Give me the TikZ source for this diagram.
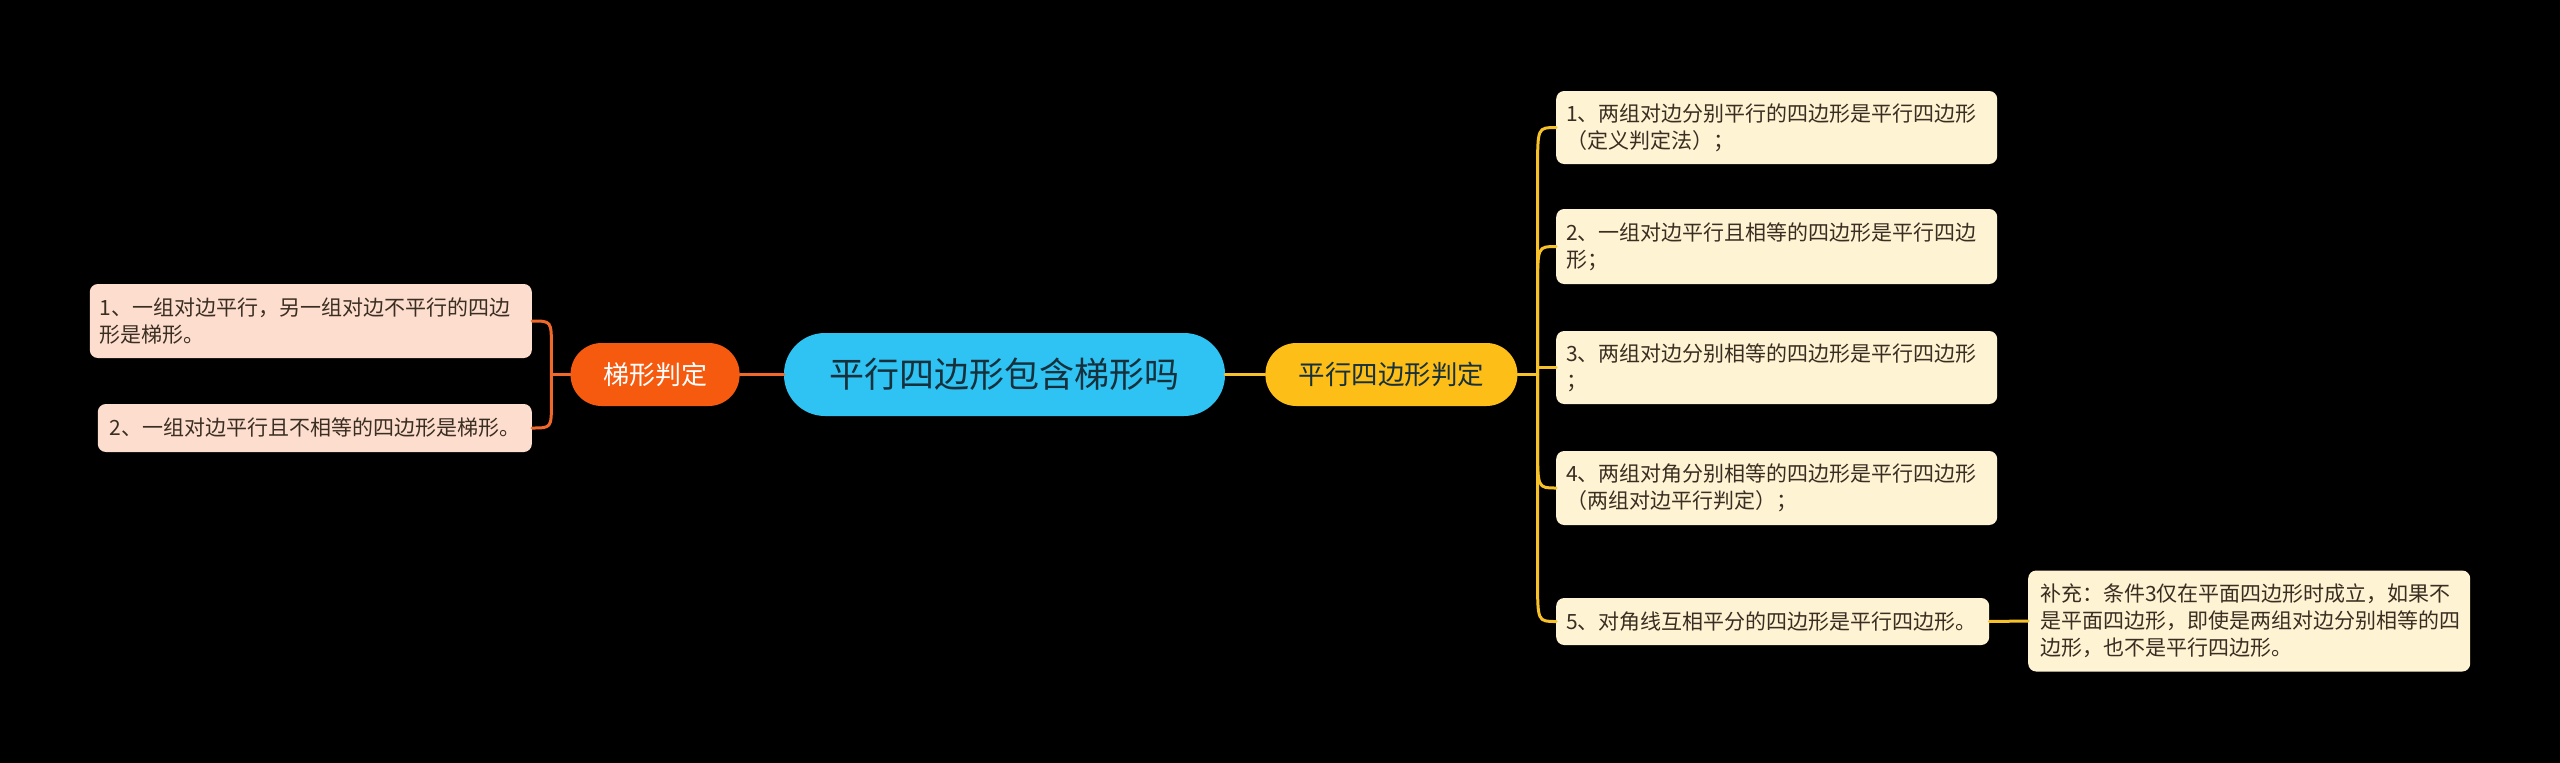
\documentclass[tikz,border=0pt]{standalone}
\usepackage{fontspec}
\setmainfont{Noto Sans CJK SC}
\usepackage{xcolor}
\usepackage{tikz}
\usetikzlibrary{positioning, calc}
\definecolor{rootblue}{HTML}{2FC3F3}
\definecolor{roottext}{HTML}{16303C}
\definecolor{trapfill}{HTML}{F55A0E}
\definecolor{parafill}{HTML}{FCBE17}
\definecolor{peach}{HTML}{FDDDCE}
\definecolor{cream}{HTML}{FEF3D2}
\definecolor{leaftext}{HTML}{3A2E22}
\definecolor{orangeln}{HTML}{F0682A}
\definecolor{yellowln}{HTML}{F7C12A}
\lineskiplimit=-50pt
\tikzset{
  root/.style={rectangle, rounded corners=41pt, fill=rootblue, text=roottext,
               minimum width=441pt, minimum height=83pt, inner sep=2pt,
               font=\fontsize{35}{42}\selectfont},
  sub/.style={rectangle, rounded corners=31pt, minimum height=63pt, inner sep=2pt},
  leaf/.style={rectangle, rounded corners=8pt, align=left, text=leaftext,
               inner xsep=10pt, inner ysep=3pt, font=\fontsize{21}{27}\selectfont},
  pleaf/.style={leaf, fill=cream, text width=421pt},
  tleaf/.style={leaf, fill=peach},
  oline/.style={draw=orangeln, line width=3pt, line cap=round},
  yline/.style={draw=yellowln, line width=3pt, line cap=round},
}
\begin{document}
\begin{tikzpicture}[x=1pt, y=-1pt]
  \fill[black] (0,0) rectangle (2560,763);
  \useasboundingbox (0,0) rectangle (2560,763);

  \node[root] (root) at (1004.5,374.5) {平行四边形包含梯形吗};
  \node[sub, fill=trapfill, text=white, minimum width=169pt,
        font=\fontsize{26}{31}\selectfont, left=44pt of root] (trap) {梯形判定};
  \node[sub, fill=parafill, text=roottext, minimum width=252pt,
        font=\fontsize{26.5}{31}\selectfont, right=40pt of root] (para) {平行四边形判定};

  % left leaves
  \node[tleaf, text width=422pt, minimum height=74pt, anchor=east] (t1) at (532,321)
    {1、一组对边平行，另一组对边不平行的四边\\形是梯形。};
  \node[tleaf, text width=410pt, inner xsep=12pt, minimum height=48pt, anchor=east] (t2) at (532,428)
    {2、一组对边平行且不相等的四边形是梯形。};

  % right leaves
  \node[pleaf, minimum height=73pt, anchor=west] (p1) at (1556,127.5)
    {1、两组对边分别平行的四边形是平行四边形\\（定义判定法）；};
  \node[pleaf, minimum height=75pt, anchor=west] (p2) at (1556,246.5)
    {2、一组对边平行且相等的四边形是平行四边\\形；};
  \node[pleaf, minimum height=73pt, anchor=west] (p3) at (1556,367.5)
    {3、两组对边分别相等的四边形是平行四边形\\；};
  \node[pleaf, minimum height=74pt, anchor=west] (p4) at (1556,488)
    {4、两组对角分别相等的四边形是平行四边形\\（两组对边平行判定）；};
  \node[pleaf, text width=413pt, minimum height=47pt, anchor=west] (p5) at (1556,621.5)
    {5、对角线互相平分的四边形是平行四边形。};
  \node[pleaf, text width=418pt, inner xsep=12pt, minimum height=101pt, anchor=west] (note) at (2028,621)
    {补充：条件3仅在平面四边形时成立，如果不\\是平面四边形，即使是两组对边分别相等的四\\边形，也不是平行四边形。};

  % connectors
  \coordinate (lfork) at ($(trap.west)+(-19,0)$);
  \coordinate (rfork) at ($(para.east)+(20,0)$);
  \draw[oline] (root.west) -- (trap.east);
  \draw[oline] (trap.west) -- (lfork);
  \draw[oline] (lfork) -- ($(lfork |- t1.east)+(0,26)$) .. controls (lfork |- t1.east) .. (t1.east);
  \draw[oline] (lfork) -- ($(lfork |- t2.east)+(0,-25)$) .. controls (lfork |- t2.east) .. (t2.east);

  \draw[yline] (root.east) -- (para.west);
  \draw[yline] (para.east) -- (rfork);
  \foreach \b/\d in {p1/42, p2/42, p4/-42, p5/-42}
    \draw[yline] (rfork) -- ($(rfork |- \b.west)+(0,\d)$) .. controls (rfork |- \b.west) .. (\b.west);
  \draw[yline] (rfork) |- (p3.west);
  \draw[yline] (p5.east) -- (note.west);
\end{tikzpicture}
\end{document}
